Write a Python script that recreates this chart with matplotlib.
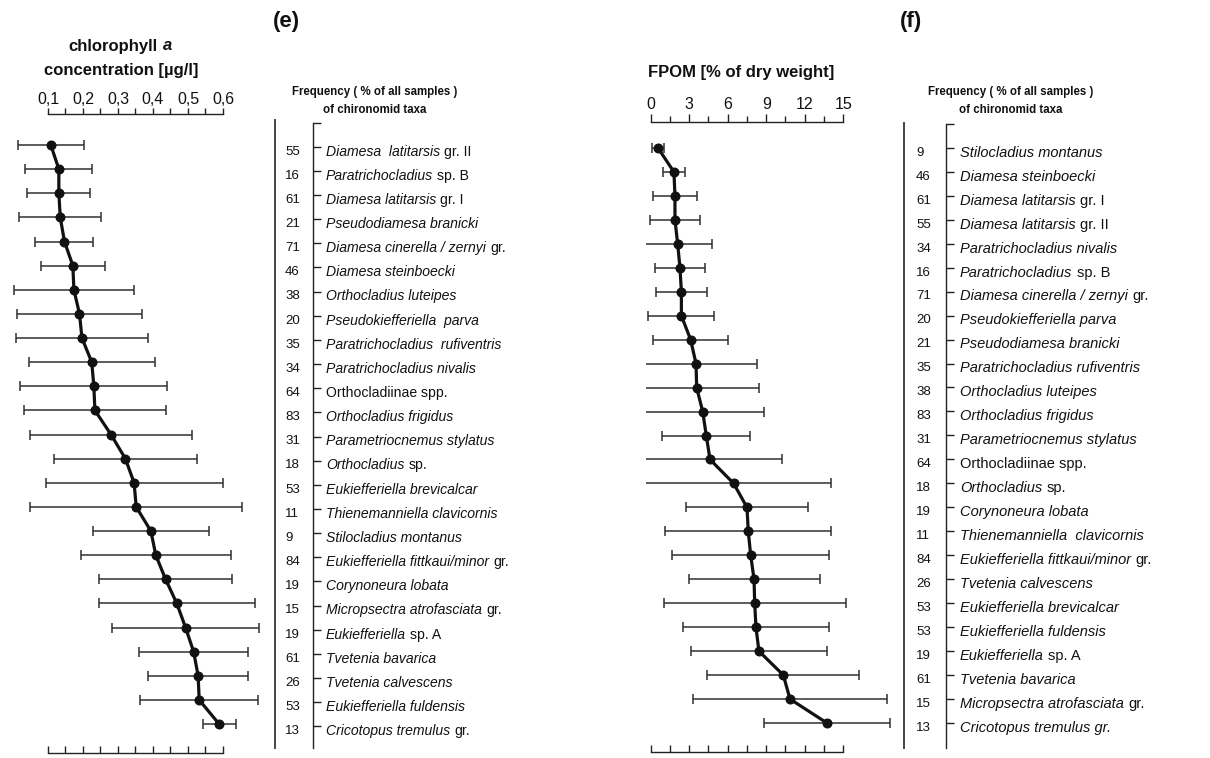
import matplotlib
matplotlib.use('Agg')
import matplotlib.pyplot as plt
from matplotlib.lines import Line2D
from matplotlib.transforms import blended_transform_factory
import numpy as np

plt.rcParams['font.family'] = ['Liberation Sans', 'DejaVu Sans']

# ---------------- data: panel (e) chlorophyll a ----------------
chl_freq = [55, 16, 61, 21, 71, 46, 38, 20, 35, 34, 64, 83, 31, 18, 53, 11, 9, 84, 19, 15, 19, 61, 26, 53, 13]
chl_taxa_italic = ["Diamesa  latitarsis", "Paratrichocladius", "Diamesa latitarsis", "Pseudodiamesa branicki",
                   "Diamesa cinerella / zernyi", "Diamesa steinboecki", "Orthocladius luteipes",
                   "Pseudokiefferiella  parva", "Paratrichocladius  rufiventris", "Paratrichocladius nivalis",
                   "", "Orthocladius frigidus", "Parametriocnemus stylatus", "Orthocladius",
                   "Eukiefferiella brevicalcar", "Thienemanniella clavicornis", "Stilocladius montanus",
                   "Eukiefferiella fittkaui/minor", "Corynoneura lobata", "Micropsectra atrofasciata",
                   "Eukiefferiella", "Tvetenia bavarica", "Tvetenia calvescens", "Eukiefferiella fuldensis",
                   "Cricotopus tremulus"]
chl_taxa_plain = ["gr. II", "sp. B", "gr. I", "", "gr.", "", "", "", "", "",
                  "Orthocladiinae spp.", "", "", "sp.", "", "", "", "gr.", "", "gr.",
                  "sp. A", "", "", "", "gr."]
chl_mean = [0.108, 0.131, 0.131, 0.135, 0.147, 0.171, 0.174, 0.190, 0.197, 0.225, 0.231, 0.234, 0.280,
            0.321, 0.346, 0.352, 0.394, 0.408, 0.436, 0.468, 0.493, 0.516, 0.529, 0.532, 0.589]
chl_sd = [0.094, 0.096, 0.090, 0.117, 0.083, 0.091, 0.171, 0.178, 0.189, 0.180, 0.210, 0.203, 0.232,
          0.205, 0.253, 0.303, 0.165, 0.215, 0.191, 0.223, 0.209, 0.155, 0.142, 0.168, 0.047]
chl_ticks = [0.1, 0.2, 0.3, 0.4, 0.5, 0.6]
chl_ticklabels = ["0,1", "0,2", "0,3", "0,4", "0,5", "0,6"]

# ---------------- data: panel (f) FPOM ----------------
fpom_freq = [9, 46, 61, 55, 34, 16, 71, 20, 21, 35, 38, 83, 31, 64, 18, 19, 11, 84, 26, 53, 53, 19, 61, 15, 13]
fpom_taxa_italic = ["Stilocladius montanus", "Diamesa steinboecki", "Diamesa latitarsis", "Diamesa latitarsis",
                    "Paratrichocladius nivalis", "Paratrichocladius", "Diamesa cinerella / zernyi",
                    "Pseudokiefferiella parva", "Pseudodiamesa branicki", "Paratrichocladius rufiventris",
                    "Orthocladius luteipes", "Orthocladius frigidus", "Parametriocnemus stylatus", "",
                    "Orthocladius", "Corynoneura lobata", "Thienemanniella  clavicornis",
                    "Eukiefferiella fittkaui/minor", "Tvetenia calvescens", "Eukiefferiella brevicalcar",
                    "Eukiefferiella fuldensis", "Eukiefferiella", "Tvetenia bavarica",
                    "Micropsectra atrofasciata", "Cricotopus tremulus gr."]
fpom_taxa_plain = ["", "", "gr. I", "gr. II", "", "sp. B", "gr.", "", "", "", "", "", "",
                   "Orthocladiinae spp.", "sp.", "", "", "gr.", "", "", "", "sp. A", "", "gr.", ""]
fpom_mean = [0.57, 1.81, 1.89, 1.89, 2.10, 2.28, 2.39, 2.39, 3.11, 3.53, 3.58, 4.05, 4.33, 4.62,
             6.46, 7.50, 7.60, 7.79, 8.05, 8.10, 8.20, 8.43, 10.33, 10.85, 13.73]
fpom_sd = [0.46, 0.86, 1.73, 1.92, 2.70, 1.95, 1.96, 2.57, 2.91, 4.73, 4.88, 4.80, 3.43, 5.58,
           7.61, 4.74, 6.48, 6.13, 5.10, 7.09, 5.71, 5.30, 5.93, 7.55, 4.89]
fpom_ticks = [0, 3, 6, 9, 12, 15]
fpom_ticklabels = ["0", "3", "6", "9", "12", "15"]

# ---------------- figure ----------------
W, H = 1210, 758
fig = plt.figure(figsize=(W / 100, H / 100), dpi=100)


def rect(x0, y0, x1, y1):
    return [x0 / W, 1 - y1 / H, (x1 - x0) / W, (y1 - y0) / H]


def fx(px):
    return px / W


def fy(py):
    return 1 - py / H


AXC = '#222222'
TXT = '#111111'


def data_panel(r, xlim, ylim, mean, sd, ticks, ticklabels, minor_step, maj_len, min_len, tick_fs):
    ax = fig.add_axes(r)
    rows = np.arange(1, len(mean) + 1)
    ax.errorbar(mean, rows, xerr=sd, fmt='none', ecolor='#303030', elinewidth=1.1,
                capsize=3.5, capthick=1.1, zorder=2)
    ax.plot(mean, rows, '-o', color='#111111', lw=2.3, ms=6.2, zorder=3)
    ax.set_xlim(*xlim)
    ax.set_ylim(*ylim)
    for s in ['left', 'right', 'bottom']:
        ax.spines[s].set_visible(False)
    ax.spines['top'].set_bounds(ticks[0], ticks[-1])
    ax.spines['top'].set_linewidth(1.0)
    ax.spines['top'].set_color(AXC)
    ax.set_yticks([])
    ax.set_xticks(ticks)
    ax.set_xticklabels(ticklabels)
    minors = np.arange(ticks[0], ticks[-1] + minor_step / 2, minor_step)
    ax.set_xticks(minors, minor=True)
    ax.tick_params(axis='x', which='both', top=True, bottom=False, labeltop=True,
                   labelbottom=False, direction='out', width=1.0, color=AXC, pad=1,
                   labelsize=tick_fs, labelcolor=TXT)
    ax.tick_params(axis='x', which='major', length=maj_len)
    ax.tick_params(axis='x', which='minor', length=min_len)
    sec = ax.secondary_xaxis('bottom')
    sec.set_xticks(minors)
    sec.tick_params(axis='x', direction='in', length=5, width=1.0, color=AXC, labelbottom=False)
    sec.spines['bottom'].set_bounds(ticks[0], ticks[-1])
    sec.spines['bottom'].set_linewidth(1.0)
    sec.spines['bottom'].set_color(AXC)
    ax.patch.set_alpha(0)
    return ax


def label_panel(r, nrows_lim, freq, italic, plain, name_px, num_px, fs):
    ax = fig.add_axes(r)
    ax.set_xlim(0, 1)
    ax.set_ylim(nrows_lim, 0)
    for s in ['top', 'right', 'bottom']:
        ax.spines[s].set_visible(False)
    ax.spines['left'].set_bounds(0, nrows_lim)
    ax.spines['left'].set_linewidth(1.0)
    ax.spines['left'].set_color(AXC)
    ax.set_xticks([])
    ax.set_yticks(np.arange(0, len(freq) + 1))
    ax.tick_params(axis='y', direction='in', length=6, width=1.0, color=AXC, labelleft=False)
    ax.patch.set_alpha(0)
    tr = blended_transform_factory(fig.transFigure, ax.transData)
    for i, (f, it, pl) in enumerate(zip(freq, italic, plain)):
        y = i + 1 + 0.2
        ax.text(fx(num_px), y, str(f), transform=tr, ha='left', va='center', fontsize=9.5, color=TXT)
        if it:
            t = ax.text(fx(name_px), y, it, transform=tr, ha='left', va='center',
                        fontsize=fs, style='italic', color=TXT)
            if pl:
                ax.annotate(pl, xy=(1, 0.5), xycoords=t, xytext=(3, 0), textcoords='offset points',
                            ha='left', va='center', fontsize=fs, color=TXT)
        else:
            ax.text(fx(name_px), y, pl, transform=tr, ha='left', va='center', fontsize=fs, color=TXT)
    return ax


# panel (e)
ax_e = data_panel(rect(10, 114, 268, 753), (-0.00857, 0.7286), (26.2, -0.285),
                  chl_mean, chl_sd, chl_ticks, chl_ticklabels, 0.05, 4, 4, 11.5)
lab_e = label_panel(rect(313, 122.6, 560, 748), 25.9, chl_freq, chl_taxa_italic, chl_taxa_plain,
                    326, 285, 10.1)

# panel (f)
ax_f = data_panel(rect(646, 121.7, 895, 752), (-0.366, 19.03), (26.21, -0.098),
                  fpom_mean, fpom_sd, fpom_ticks, fpom_ticklabels, 1.5, 6, 4, 11.5)
lab_f = label_panel(rect(946, 124, 1205, 748), 26.05, fpom_freq, fpom_taxa_italic, fpom_taxa_plain,
                    960, 916, 10.5)

# long separating lines
fig.add_artist(Line2D([fx(275), fx(275)], [fy(120), fy(748)], color='#444444', lw=1.4))
fig.add_artist(Line2D([fx(904), fx(904)], [fy(123), fy(748)], color='#444444', lw=1.4))

# headers
for cx in (375, 1011):
    fig.text(fx(cx), fy(92), "Frequency ( % of all samples )", ha='center', va='center',
             fontsize=8.3, fontweight='bold', color=TXT)
    fig.text(fx(cx), fy(110), "of chironomid taxa", ha='center', va='center',
             fontsize=8.3, fontweight='bold', color=TXT)

fig.text(fx(286), fy(22), "(e)", ha='center', va='center', fontsize=16, fontweight='bold', color=TXT)
fig.text(fx(911), fy(22), "(f)", ha='center', va='center', fontsize=16, fontweight='bold', color=TXT)

t1 = fig.text(fx(60), fy(46), "chlorophyll", ha='left', va='center', fontsize=12,
              fontweight='bold', color=TXT)
t2 = plt.annotate("a", xy=(1, 0.5), xycoords=t1, xytext=(4, 0), textcoords='offset points',
                  ha='left', va='center', fontsize=12, fontweight='bold', style='italic', color=TXT,
                  annotation_clip=False)
fig.text(fx(121), fy(71), "concentration [µg/l]", ha='center', va='center', fontsize=12,
         fontweight='bold', color=TXT)
fig.text(fx(741), fy(73), "FPOM [% of dry weight]", ha='center', va='center', fontsize=12,
         fontweight='bold', color=TXT)

# center "chlorophyll a" around x=120
fig.canvas.draw()
r = fig.canvas.get_renderer()
b1 = t1.get_window_extent(r)
b2 = t2.get_window_extent(r)
total_center = (b1.x0 + b2.x1) / 2
shift = 120 - total_center
t1.set_x(t1.get_position()[0] + shift / W)

fig.savefig('out.png', dpi=100)
